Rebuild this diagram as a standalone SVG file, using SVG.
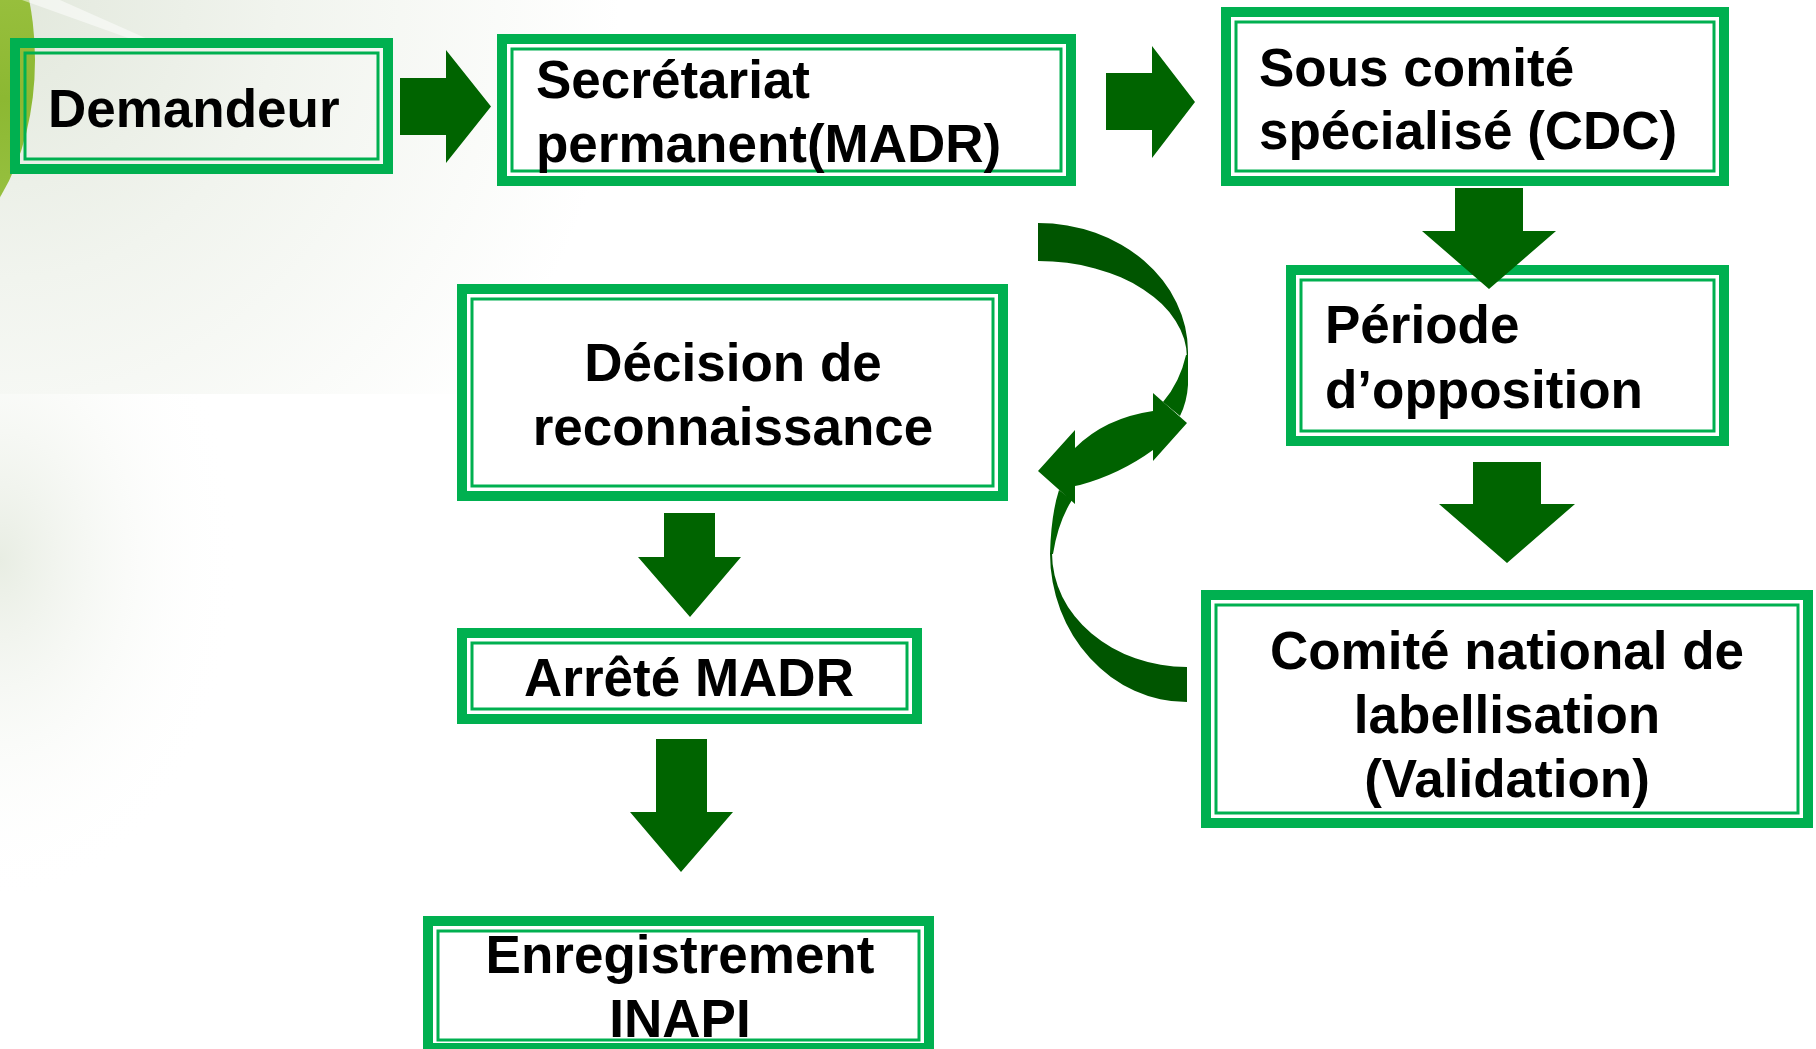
<svg xmlns="http://www.w3.org/2000/svg" width="1816" height="1049" viewBox="0 0 1816 1049">
  <defs>
    <radialGradient id="bgwash" cx="0" cy="0" r="620" gradientUnits="userSpaceOnUse">
      <stop offset="0" stop-color="#e2e8dc"/>
      <stop offset="0.45" stop-color="#f1f4ee"/>
      <stop offset="1" stop-color="#ffffff"/>
    </radialGradient>
    <radialGradient id="leftwash" cx="0" cy="560" r="300" gradientTransform="translate(0,560) scale(0.8,1.15) translate(0,-560)" gradientUnits="userSpaceOnUse">
      <stop offset="0" stop-color="#e8ede3"/>
      <stop offset="1" stop-color="#ffffff" stop-opacity="0"/>
    </radialGradient>
    <linearGradient id="lime" x1="0" y1="0" x2="0" y2="1">
      <stop offset="0" stop-color="#a6c84a"/>
      <stop offset="0.6" stop-color="#8cb832"/>
      <stop offset="1" stop-color="#9cc446"/>
    </linearGradient>
    <style>
      .outer { fill: #ffffff; stroke: #00b050; stroke-width: 10; }
      .clear { fill: none; }
      .inner { fill: none; stroke: #00b050; stroke-width: 3; }
      .lbl { font-family: "Liberation Sans", Arial, Helvetica, sans-serif; font-weight: bold; font-size: 53px; fill: #000000; }
      .mid { text-anchor: middle; }
      .arrow { fill: #006400; }
      .dark { fill: #005500; }
      .light { fill: #006200; }
    </style>
  </defs>

  <!-- background -->
  <rect x="0" y="0" width="1816" height="1049" fill="#ffffff"/>
  <rect x="0" y="0" width="700" height="394" fill="url(#bgwash)"/>
  <rect x="0" y="394" width="400" height="500" fill="url(#leftwash)"/>
  <ellipse cx="-80" cy="60" rx="115" ry="191" fill="url(#lime)"/>
  <polygon points="22,0 60,0 150,40 145,44" fill="#ffffff" opacity="0.5"/>

  <!-- nodes -->
  <g id="node-demandeur">
    <rect class="outer clear" x="15" y="43" width="373" height="126"/>
    <rect class="inner" x="25" y="53" width="353" height="106"/>
    <text class="lbl" x="48" y="127">Demandeur</text>
  </g>

  <g id="node-secretariat">
    <rect class="outer" x="502" y="39" width="569" height="142"/>
    <rect class="inner" x="512" y="49" width="549" height="122"/>
    <text class="lbl" x="536" y="98">Secrétariat</text>
    <text class="lbl" x="536" y="162">permanent(MADR)</text>
  </g>

  <g id="node-sous-comite">
    <rect class="outer" x="1226" y="12" width="498" height="169"/>
    <rect class="inner" x="1236" y="22" width="478" height="149"/>
    <text class="lbl" x="1259" y="86">Sous comité</text>
    <text class="lbl" x="1259" y="149">spécialisé (CDC)</text>
  </g>

  <g id="node-periode">
    <rect class="outer" x="1291" y="270" width="433" height="171"/>
    <rect class="inner" x="1301" y="280" width="413" height="151"/>
    <text class="lbl" x="1325" y="343">Période</text>
    <text class="lbl" x="1325" y="408">d’opposition</text>
  </g>

  <g id="node-comite-national">
    <rect class="outer" x="1206" y="595" width="602" height="228"/>
    <rect class="inner" x="1216" y="605" width="582" height="208"/>
    <text class="lbl mid" x="1507" y="669">Comité national de</text>
    <text class="lbl mid" x="1507" y="733">labellisation</text>
    <text class="lbl mid" x="1507" y="797">(Validation)</text>
  </g>

  <g id="node-decision">
    <rect class="outer" x="462" y="289" width="541" height="207"/>
    <rect class="inner" x="472" y="299" width="521" height="187"/>
    <text class="lbl mid" x="733" y="381">Décision de</text>
    <text class="lbl mid" x="733" y="445">reconnaissance</text>
  </g>

  <g id="node-arrete">
    <rect class="outer" x="462" y="633" width="455" height="86"/>
    <rect class="inner" x="472" y="643" width="435" height="66"/>
    <text class="lbl mid" x="689" y="696">Arrêté MADR</text>
  </g>

  <g id="node-enregistrement">
    <rect class="outer" x="428" y="921" width="501" height="127"/>
    <rect class="inner" x="438" y="931" width="481" height="109"/>
    <text class="lbl mid" x="680" y="973">Enregistrement</text>
    <text class="lbl mid" x="680" y="1037">INAPI</text>
  </g>

  <!-- connectors -->
  <g id="connectors">
    <polygon class="arrow" points="400,78 446,78 446,50 491,106.5 446,163 446,135 400,135"/>
    <polygon class="arrow" points="1106,73 1152,73 1152,46 1195,102 1152,158 1152,130 1106,130"/>
    <polygon class="arrow" points="1455,188 1523,188 1523,231 1556,231 1489,289 1422,231 1455,231"/>
    <polygon class="arrow" points="1473,462 1541,462 1541,504 1575,504 1507,563 1439,504 1473,504"/>
    <polygon class="arrow" points="664,513 715,513 715,557 741,557 690,617 638,557 664,557"/>
    <polygon class="arrow" points="656,739 707,739 707,812 733,812 681,872 630,812 656,812"/>

    <g id="curved-arrows">
      <path class="dark" d="M1038,223 A150,129 0 0 1 1188,352 L1188,358 L1187,358 A149,97 0 0 0 1038,261 Z"/>
      <path class="light" d="M1186,355 L1188,355 L1188,385 Q1187,402 1180,416 L1163,402 Q1180,382 1186,355 Z"/>
      <path class="light" d="M1075,430 L1075,448 Q1105,418 1153,411 L1153,393 L1187,423 L1153,461 L1153,450 Q1120,474 1080,485 L1075,486 L1075,504 L1038,471 Z"/>
      <path class="light" d="M1059,490 L1072,500 Q1058,522 1053,554 L1050,554 Q1051,515 1059,490 Z"/>
      <path class="dark" d="M1050,553 A137,149 0 0 0 1187,702 L1187,667 A135,114 0 0 1 1052,553 Z"/>
    </g>
  </g>
</svg>
